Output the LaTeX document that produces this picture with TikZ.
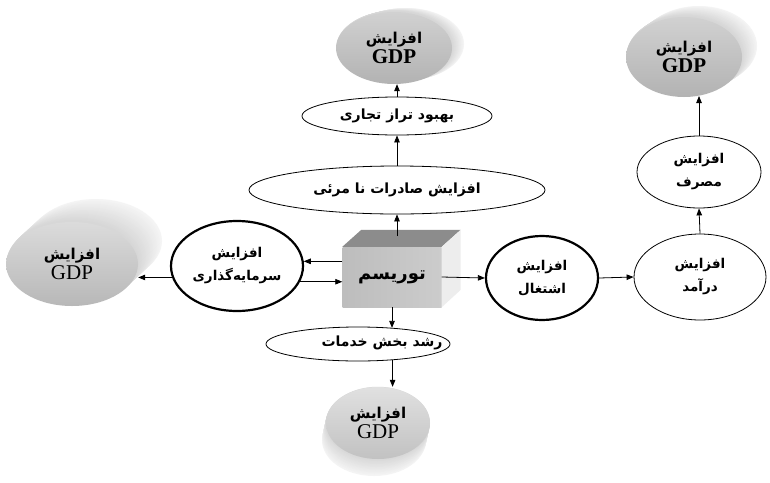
\documentclass[tikz,border=0pt]{standalone}
\usepackage{fontspec}
\usetikzlibrary{shapes.geometric,arrows.meta,calc}
\TeXXeTstate=1
\newfontfamily\fa[Script=Arabic]{DejaVu Sans}
\newfontfamily\gdpf{Liberation Serif}
\newcommand\fat[1]{{\fa\bfseries\beginR #1\endR}}
\newcommand\cylbody[6]{%
  \foreach \k in {24,23,...,1}{%
    \pgfmathsetmacro\tone{4+12*(1-\k/24)}%
    \fill[black!\tone] ({#1+#5*\k/24},{#2+#6*\k/24}) ellipse [x radius=#3pt, y radius=#4pt];
  }%
}
\begin{document}
\begin{tikzpicture}[x=1pt,y=-1pt,
  arr/.style={-{Triangle[length=7pt,width=5.5pt]}, line width=0.8pt},
  oval/.style={ellipse, draw, line width=0.8pt, inner sep=0pt, fill=white},
  thickc/.style={ellipse, draw, line width=2.2pt, inner sep=0pt, align=center, font=\fontsize{13.5}{23}\selectfont},
  thinc/.style={ellipse, draw, line width=0.8pt, inner sep=0pt, align=center, font=\fontsize{13.5}{23}\selectfont},
  face/.style={ellipse, inner sep=0pt, draw=none, top color=black!18, bottom color=black!30, align=center},
  ovtxt/.style={font=\fontsize{14}{16}\selectfont}
]
\useasboundingbox[fill=white] (0,0) rectangle (770,482);

% ---- cylinders (bodies) ----
\cylbody{394}{47}{58}{36}{12}{-3}
\cylbody{72}{263}{66}{42}{24}{-22}
\cylbody{684}{56}{58}{40}{15}{-10}
\cylbody{378}{422}{52}{36}{-4}{18}

% ---- cylinder faces ----
\node[face, minimum width=116pt, minimum height=72pt] (gT) at (394,48)
  {\fontsize{15}{18}\selectfont\fat{افزایش}\\[1pt]{\gdpf\bfseries\fontsize{21}{22}\selectfont GDP}};
\node[face, top color=black!14, bottom color=black!28, minimum width=132pt, minimum height=84pt] (gL) at (72,264)
  {\fontsize{15}{18}\selectfont\fat{افزایش}\\[1pt]{\gdpf\fontsize{21}{22}\selectfont GDP}};
\node[face, minimum width=116pt, minimum height=80pt] (gTR) at (684,57)
  {\fontsize{15}{18}\selectfont\fat{افزایش}\\[1pt]{\gdpf\bfseries\fontsize{21}{22}\selectfont GDP}};
\node[face, top color=black!12, bottom color=black!24, minimum width=104pt, minimum height=72pt] (gB) at (378,423)
  {\fontsize{15}{18}\selectfont\fat{افزایش}\\[1pt]{\gdpf\fontsize{21}{22}\selectfont GDP}};

% ---- cube ----
\node[draw=none, left color=black!26, right color=black!20, minimum width=99pt, minimum height=60pt, inner sep=0pt,
  font=\fontsize{18}{20}\selectfont] (cube) at (392,277) {\fat{توریسم}};
\fill[black!45] (cube.north west) -- ++(19,-17) -- ($(cube.north east)+(19,-17)$) -- (cube.north east) -- cycle;
\fill[black!7] (cube.north east) -- ++(19,-17) -- ++(0,60) -- (cube.south east) -- cycle;

% ---- ellipses ----
\node[oval, minimum width=296pt, minimum height=48pt, ovtxt] (e3) at (397,190) {\fat{افزایش صادرات نا مرئی}};
\node[oval, minimum width=190pt, minimum height=38pt, ovtxt] (e2) at (397,116) {\fat{بهبود تراز تجاری}};
\node[oval, minimum width=184pt, minimum height=34pt] (e4) at (358,344) {};
\node[ovtxt] (e4t) at (382,343) {\fat{رشد بخش خدمات}};

% ---- circles ----
\node[thickc, minimum width=132pt, minimum height=90pt] (inv) at (237,266)
  {\fat{افزایش}\\\fat{سرمایه\char"200C گذاری}};
\node[thickc, minimum width=112pt, minimum height=84pt] (emp) at (542,278)
  {\fat{افزایش}\\\fat{اشتغال}};
\node[thinc, minimum width=132pt, minimum height=86pt] (inc) at (700,277)
  {\fat{افزایش}\\\fat{درآمد}};
\node[thinc, minimum width=124pt, minimum height=72pt] (cons) at (699,172)
  {\fat{افزایش}\\\fat{مصرف}};

% ---- connectors ----
\coordinate (cubetop) at (397,236);
\coordinate (gTRin) at (699,96);
\draw[arr] (cubetop) -- (e3.south);
\draw[arr] (e3.north) -- (e2.south);
\draw[arr] (e2.north) -- (e2.north |- gT.south);
\draw[arr] (cube.south) -- (cube.south |- e4.25);
\draw[arr] (e4.-25) -- (e4.-25 |- gB.north);
\draw[arr] (inv.4 -| cube.west) -- (inv.4);
\draw[arr] (inv.-14) -- (inv.-14 -| cube.west);
\draw[arr] (inv.190) -- (inv.190 -| gL.east);
\draw[arr] (cube.east) -- (emp.west);
\draw[arr] (emp.east) -- (inc.west);
\draw[arr] (inc.north) -- (cons.south);
\draw[arr] (cons.north) -- (gTRin);
\end{tikzpicture}
\end{document}
